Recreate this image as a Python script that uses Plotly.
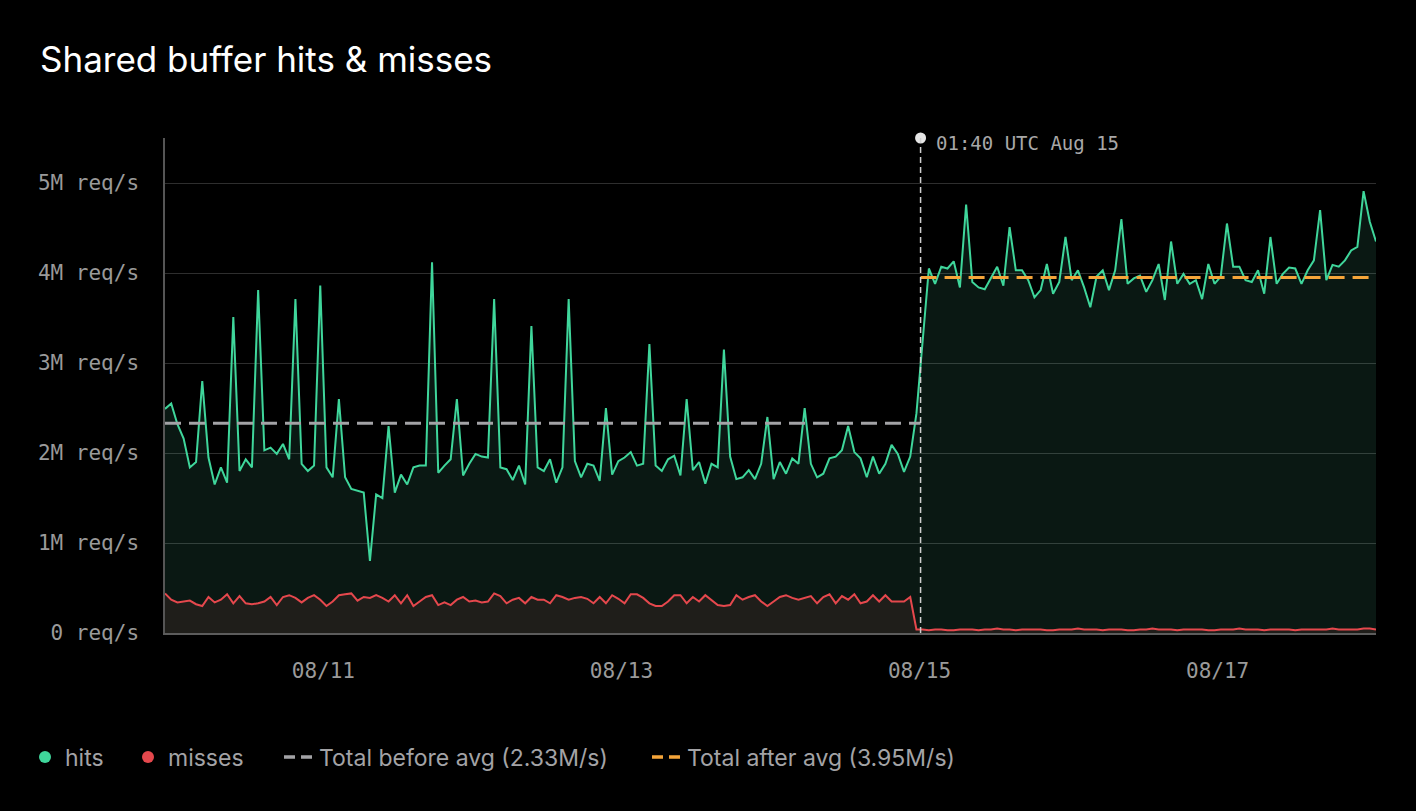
import pandas as pd
import plotly.graph_objects as go

TITLE = "Shared buffer hits & misses"
START = "2024-08-10 00:00"
EVENT = "2024-08-15 01:40"
EVENT_LABEL = "01:40 UTC Aug 15"

hits = [
    2.49, 2.55, 2.32, 2.16, 1.84, 1.90, 2.80, 1.95, 1.65, 1.84,
    1.67, 3.51, 1.80, 1.93, 1.84, 3.81, 2.03, 2.06, 1.99, 2.10,
    1.93, 3.71, 1.88, 1.80, 1.86, 3.86, 1.84, 1.73, 2.60, 1.73,
    1.60, 1.58, 1.56, 0.80, 1.54, 1.50, 2.30, 1.56, 1.76, 1.65,
    1.84, 1.86, 1.86, 4.12, 1.78, 1.86, 1.93, 2.60, 1.75, 1.88,
    1.99, 1.96, 1.95, 3.71, 1.84, 1.82, 1.70, 1.86, 1.65, 3.41,
    1.84, 1.80, 1.93, 1.67, 1.84, 3.71, 1.91, 1.73, 1.88, 1.86,
    1.69, 2.50, 1.76, 1.91, 1.95, 2.01, 1.86, 1.88, 3.21, 1.86,
    1.80, 1.93, 1.97, 1.75, 2.60, 1.81, 1.90, 1.66, 1.88, 1.84,
    3.15, 1.96, 1.71, 1.73, 1.81, 1.71, 1.88, 2.40, 1.71, 1.90,
    1.77, 1.94, 1.88, 2.50, 1.88, 1.73, 1.77, 1.94, 1.96, 2.03,
    2.30, 2.01, 1.94, 1.73, 1.96, 1.77, 1.88, 2.09, 1.99, 1.79,
    1.96, 2.44, 3.20, 4.05, 3.88, 4.07, 4.05, 4.13, 3.84, 4.76,
    3.90, 3.84, 3.82, 3.94, 4.07, 3.86, 4.51, 4.03, 4.03, 3.92,
    3.73, 3.81, 4.10, 3.77, 3.90, 4.40, 3.92, 4.03, 3.84, 3.62,
    3.96, 4.03, 3.81, 4.03, 4.60, 3.88, 3.94, 3.97, 3.79, 3.92,
    4.10, 3.70, 4.35, 3.88, 3.99, 3.88, 3.92, 3.71, 4.10, 3.88,
    3.96, 4.55, 4.07, 4.07, 3.92, 3.90, 4.03, 3.77, 4.40, 3.88,
    3.99, 4.06, 4.05, 3.88, 4.03, 4.14, 4.70, 3.92, 4.09, 4.07,
    4.14, 4.25, 4.29, 4.91, 4.57, 4.35,
]

misses = [
    0.44, 0.37, 0.34, 0.35, 0.36, 0.32, 0.30, 0.40, 0.34, 0.37,
    0.43, 0.33, 0.41, 0.33, 0.32, 0.33, 0.35, 0.40, 0.31, 0.40,
    0.42, 0.39, 0.34, 0.39, 0.42, 0.37, 0.30, 0.35, 0.42, 0.43,
    0.44, 0.36, 0.40, 0.39, 0.42, 0.39, 0.35, 0.42, 0.33, 0.42,
    0.30, 0.35, 0.40, 0.42, 0.31, 0.34, 0.31, 0.37, 0.40, 0.35,
    0.36, 0.34, 0.35, 0.44, 0.41, 0.33, 0.37, 0.39, 0.33, 0.40,
    0.37, 0.37, 0.33, 0.42, 0.40, 0.37, 0.39, 0.40, 0.38, 0.33,
    0.40, 0.33, 0.42, 0.38, 0.33, 0.43, 0.43, 0.39, 0.33, 0.30,
    0.30, 0.35, 0.42, 0.42, 0.33, 0.40, 0.35, 0.42, 0.37, 0.31,
    0.30, 0.31, 0.42, 0.37, 0.40, 0.42, 0.35, 0.30, 0.35, 0.40,
    0.42, 0.39, 0.37, 0.39, 0.41, 0.33, 0.40, 0.43, 0.33, 0.41,
    0.37, 0.43, 0.33, 0.35, 0.42, 0.35, 0.42, 0.35, 0.35, 0.35,
    0.40, 0.04, 0.04, 0.03, 0.04, 0.04, 0.03, 0.03, 0.04, 0.04,
    0.04, 0.03, 0.04, 0.04, 0.05, 0.04, 0.04, 0.03, 0.04, 0.04,
    0.04, 0.04, 0.03, 0.03, 0.04, 0.04, 0.04, 0.05, 0.04, 0.04,
    0.04, 0.03, 0.04, 0.04, 0.04, 0.03, 0.03, 0.04, 0.04, 0.05,
    0.04, 0.04, 0.04, 0.03, 0.04, 0.04, 0.04, 0.04, 0.03, 0.03,
    0.04, 0.04, 0.04, 0.05, 0.04, 0.04, 0.04, 0.03, 0.04, 0.04,
    0.04, 0.04, 0.03, 0.04, 0.04, 0.04, 0.04, 0.04, 0.05, 0.04,
    0.04, 0.04, 0.04, 0.05, 0.05, 0.04,
]

avg_before = 2.33
avg_after = 3.95
y_tick_vals = [0, 1, 2, 3, 4, 5]
y_tick_text = ["0 req/s", "1M req/s", "2M req/s", "3M req/s", "4M req/s", "5M req/s"]
x_tick_vals = ["2024-08-11 01:30", "2024-08-13 01:30", "2024-08-15 01:30", "2024-08-17 01:30"]
x_tick_text = ["08/11", "08/13", "08/15", "08/17"]
legend_names = ["hits", "misses", "Total before avg (2.33M/s)", "Total after avg (3.95M/s)"]

times = pd.date_range(START, periods=len(hits), freq="h")
END = times[-1]
Y_TOP = 5.5

GREEN = "#3fd69b"
RED = "#e5484d"
GRAY_AVG = "#a3a3a6"
ORANGE = "#f5a53a"
MONO = "DejaVu Sans Mono, Liberation Mono, monospace"
SANS = "Inter, Noto Sans, sans-serif"

fig = go.Figure()

fig.add_trace(go.Scatter(
    x=times, y=hits, mode="lines", line=dict(color=GREEN, width=2),
    fill="tozeroy", fillcolor="rgba(100,240,190,0.10)", showlegend=False,
    hoverinfo="skip",
))
fig.add_trace(go.Scatter(
    x=times, y=misses, mode="lines", line=dict(color=RED, width=2),
    fill="tozeroy", fillcolor="rgba(157,64,65,0.15)", showlegend=False,
    hoverinfo="skip",
))
fig.add_trace(go.Scatter(
    x=[times[0], pd.Timestamp(EVENT)], y=[avg_before, avg_before], mode="lines",
    line=dict(color=GRAY_AVG, width=3, dash="16px,8px"), showlegend=False,
    hoverinfo="skip",
))
fig.add_trace(go.Scatter(
    x=[pd.Timestamp(EVENT), END], y=[avg_after, avg_after], mode="lines",
    line=dict(color=ORANGE, width=3, dash="16px,8px"), showlegend=False,
    hoverinfo="skip",
))

# event marker dot
fig.add_trace(go.Scatter(
    x=[pd.Timestamp(EVENT)], y=[Y_TOP], mode="markers",
    marker=dict(color="#e6e6e6", size=11), cliponaxis=False,
    showlegend=False, hoverinfo="skip",
))

# legend-only entries, each in its own legend for exact placement
fig.add_trace(go.Scatter(x=[None], y=[None], mode="markers", name=legend_names[0],
                         marker=dict(color=GREEN, size=12), legend="legend"))
fig.add_trace(go.Scatter(x=[None], y=[None], mode="markers", name=legend_names[1],
                         marker=dict(color=RED, size=12), legend="legend2"))
fig.add_trace(go.Scatter(x=[None], y=[None], mode="lines", name=legend_names[2],
                         line=dict(color=GRAY_AVG, width=3.5, dash="11px,6px"), legend="legend3"))
fig.add_trace(go.Scatter(x=[None], y=[None], mode="lines", name=legend_names[3],
                         line=dict(color=ORANGE, width=3.5, dash="11px,6px"), legend="legend4"))

fig.add_shape(type="line", xref="x", yref="y", x0=EVENT, x1=EVENT, y0=0, y1=Y_TOP,
              line=dict(color="#cfcfcf", width=1.5, dash="6px,4px"), layer="above")

fig.add_annotation(x=EVENT, y=Y_TOP, xref="x", yref="y", text=EVENT_LABEL,
                   showarrow=False, xanchor="left", yanchor="middle", xshift=13, yshift=-5,
                   font=dict(family=MONO, size=19, color="#a8a8a8"))


def legend_at(px):
    return dict(orientation="h", xref="container", yref="container",
                x=px / 1416, y=1 - 757 / 811, xanchor="left", yanchor="middle",
                font=dict(family=SANS, size=23, color="#a3a3a6"),
                bgcolor="rgba(0,0,0,0)", itemclick=False, itemdoubleclick=False)


fig.update_layout(
    width=1416, height=811,
    paper_bgcolor="#000000", plot_bgcolor="#000000",
    margin=dict(l=165, r=40, t=138, b=178),
    title=dict(text=TITLE, x=40 / 1416, xref="container", xanchor="left",
               y=1 - 60 / 811, yref="container", yanchor="middle",
               font=dict(family=SANS, size=35, color="#ffffff")),
    showlegend=True,
    legend=legend_at(25),
    legend2=legend_at(128),
    legend3=legend_at(279),
    legend4=legend_at(647),
    xaxis=dict(type="date", range=[times[0], END], showgrid=False, zeroline=False,
               showline=True, linecolor="#5c5c5c", linewidth=2,
               tickvals=x_tick_vals, ticktext=x_tick_text, ticks="",
               ticklabelstandoff=18,
               tickfont=dict(family=MONO, size=21, color="#9a9a9a")),
    yaxis=dict(range=[0, Y_TOP], showgrid=True, gridcolor="#2e2e2e", gridwidth=1.2,
               zeroline=False, showline=True, linecolor="#555555", linewidth=1.5,
               tickvals=y_tick_vals, ticktext=y_tick_text, ticks="",
               ticklabelstandoff=20,
               tickfont=dict(family=MONO, size=21, color="#9a9a9a")),
    hovermode=False,
)

fig.write_html("out.html", post_script="document.body.style.margin='0';document.body.style.background='#000';",
               config={"displayModeBar": False})
